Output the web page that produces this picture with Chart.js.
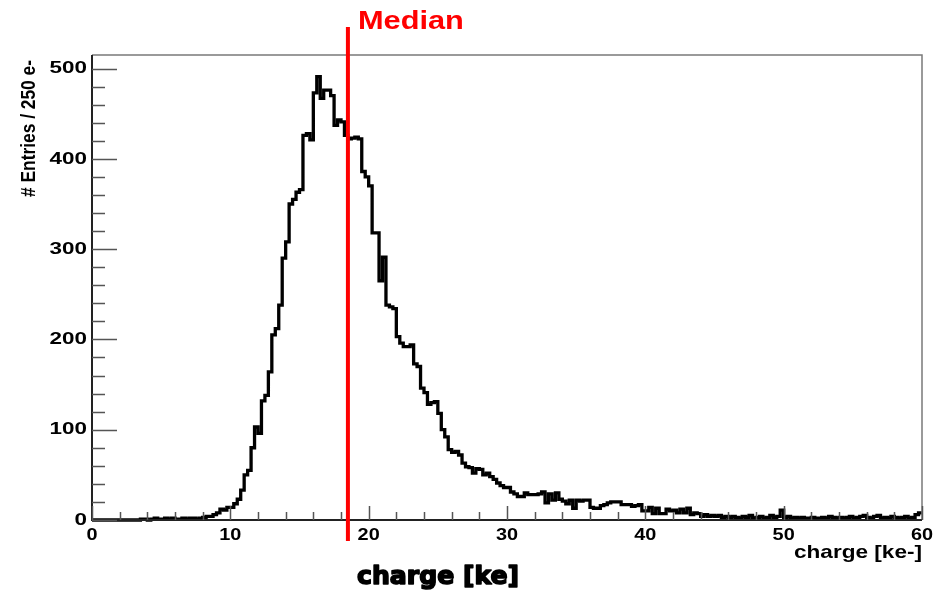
<!DOCTYPE html>
<html><head><meta charset="utf-8">
<script src="https://cdn.jsdelivr.net/npm/chart.js@4.4.1/dist/chart.umd.min.js"></script>
<style>html,body{margin:0;padding:0;background:#fff}#wrap{width:936px;height:590px}</style>
</head><body><div id="wrap"><canvas id="c" width="936" height="590"></canvas></div>
<script>
// ---- data ----
const BIN_WIDTH_KE = 0.25;
const X_RANGE = [0, 60];
const Y_RANGE = [0, 515];
const X_TICKS = [0, 10, 20, 30, 40, 50, 60];
const Y_TICKS = [0, 100, 200, 300, 400, 500];
const X_MINOR_STEP = 2;
const Y_MINOR_STEP = 20;
const COUNTS = [
  0,0,0,0,0,0,0,0,0,0,
  0,0,0,0,1,1,0,1,2,1,
  1,2,1,2,1,1,2,1,2,2,
  1,2,3,4,4,6,8,12,11,14,
  14,18,23,33,50,55,80,103,96,132,
  138,164,205,212,238,290,308,350,355,363,
  366,426,428,421,473,491,467,476,476,470,
  437,443,441,426,422,423,424,422,386,380,
  370,318,318,265,291,238,236,234,203,196,
  192,192,194,173,170,146,141,128,130,131,
  118,100,92,78,75,76,72,63,59,58,
  52,57,56,50,52,48,45,41,38,36,
  36,31,29,26,26,30,28,28,28,29,
  31,19,29,22,30,23,21,18,22,13,
  22,21,22,22,14,13,13,16,17,19,
  20,20,20,17,17,17,15,16,17,10,
  10,14,7,13,7,7,12,10,11,8,
  12,8,13,6,8,7,4,6,4,5,
  4,5,3,4,3,4,3,2,4,3,
  5,2,3,4,2,3,5,3,4,11,
  3,4,2,3,2,3,2,2,3,2,
  2,3,2,4,3,2,3,2,3,4,
  2,3,4,5,3,2,4,5,2,3,
  2,4,3,2,3,4,2,3,6,8
];
const MEDIAN_KE = 18.5;
const MEDIAN_LABEL = 'Median';
const X_TITLE = 'charge [ke-]';
const X_CAPTION = 'charge [ke]';
const Y_TITLE = '# Entries / 250 e-';

// ---- build histogram step points (bin left edges + closing edge) ----
const points = COUNTS.map((c, i) => ({x: i * BIN_WIDTH_KE, y: c}));
points.push({x: COUNTS.length * BIN_WIDTH_KE, y: COUNTS[COUNTS.length - 1]});

const FONT = "'Liberation Sans', Arial, Helvetica, sans-serif";

function drawStretched(ctx, text, x, y, sx, align, stroke) {
  ctx.save();
  ctx.translate(x, y);
  ctx.scale(sx, 1);
  ctx.textAlign = align;
  ctx.fillText(text, 0, 0);
  if (stroke) { ctx.lineWidth = stroke; ctx.strokeStyle = ctx.fillStyle; ctx.lineJoin = 'round'; ctx.strokeText(text, 0, 0); }
  ctx.restore();
}
function drawFitted(ctx, text, x, y, target, align, stroke) {
  const w = ctx.measureText(text).width;
  drawStretched(ctx, text, x, y, target / w, align, stroke);
}

const decor = {
  id: 'decor',
  afterDatasetsDraw(chart) {
    const {ctx, chartArea: a, scales: {x, y}} = chart;
    ctx.save();
    // frame
    ctx.strokeStyle = '#7a7a7a';
    ctx.lineWidth = 1.5;
    ctx.beginPath();
    ctx.moveTo(a.left, a.top); ctx.lineTo(a.right, a.top); ctx.lineTo(a.right, a.bottom);
    ctx.stroke();
    ctx.strokeStyle = '#222';
    ctx.lineWidth = 2;
    ctx.beginPath();
    ctx.moveTo(a.left, a.top); ctx.lineTo(a.left, a.bottom); ctx.lineTo(a.right, a.bottom);
    ctx.stroke();
    // ticks
    ctx.strokeStyle = '#555';
    ctx.lineWidth = 1.5;
    ctx.beginPath();
    for (let v = Y_RANGE[0]; v <= Y_RANGE[1]; v += Y_MINOR_STEP) {
      const py = Math.round(y.getPixelForValue(v)) + 0.5;
      const len = (v % 100 === 0) ? 25 : 13;
      ctx.moveTo(a.left, py); ctx.lineTo(a.left + len, py);
    }
    for (let v = X_RANGE[0]; v <= X_RANGE[1]; v += X_MINOR_STEP) {
      const px = Math.round(x.getPixelForValue(v)) + 0.5;
      const len = (v % 10 === 0) ? 14 : 8;
      ctx.moveTo(px, a.bottom); ctx.lineTo(px, a.bottom - len);
    }
    ctx.stroke();
    // tick labels
    ctx.fillStyle = '#000';
    ctx.font = 'bold 17px ' + FONT;
    ctx.textBaseline = 'middle';
    Y_TICKS.forEach(v => drawStretched(ctx, String(v), a.left - 5, y.getPixelForValue(v), 1.32, 'right'));
    ctx.textBaseline = 'alphabetic';
    X_TICKS.forEach(v => drawStretched(ctx, String(v), x.getPixelForValue(v), 540, 1.17, 'center'));
    // median line
    const mx = x.getPixelForValue(MEDIAN_KE);
    ctx.strokeStyle = '#ff0000';
    ctx.lineWidth = 4;
    ctx.beginPath();
    ctx.moveTo(mx, 27); ctx.lineTo(mx, 541);
    ctx.stroke();
    ctx.fillStyle = '#ff0000';
    ctx.font = 'bold 26px ' + FONT;
    ctx.textBaseline = 'alphabetic';
    drawFitted(ctx, MEDIAN_LABEL, mx + 10, 29, 106, 'left');
    // axis titles
    ctx.fillStyle = '#000';
    ctx.font = 'bold 19px ' + FONT;
    drawFitted(ctx, X_TITLE, a.right, 558, 128, 'right');
    ctx.font = "bold 25px 'DejaVu Sans', sans-serif";
    drawFitted(ctx, X_CAPTION, 438, 584, 162, 'center', 1.6);
    // y title rotated
    ctx.font = 'bold 20px ' + FONT;
    ctx.save();
    ctx.translate(29, 197);
    ctx.rotate(-Math.PI / 2);
    ctx.textBaseline = 'middle';
    const w = ctx.measureText(Y_TITLE).width;
    ctx.scale(137 / w, 1);
    ctx.textAlign = 'left';
    ctx.fillText(Y_TITLE, 0, 0);
    ctx.restore();
    ctx.restore();
  }
};

new Chart(document.getElementById('c'), {
  type: 'line',
  data: {
    datasets: [{
      data: points,
      stepped: 'before',
      borderColor: '#000',
      borderWidth: 3.3,
      pointRadius: 0,
      fill: false,
      clip: 6
    }]
  },
  options: {
    responsive: false,
    animation: false,
    devicePixelRatio: 1,
    layout: {padding: {top: 55, right: 14, left: 0, bottom: 0}},
    plugins: {legend: {display: false}, tooltip: {enabled: false}},
    scales: {
      x: {
        type: 'linear', min: X_RANGE[0], max: X_RANGE[1],
        afterFit(s) { s.height = 70; },
        afterBuildTicks(s) { s.ticks = X_TICKS.map(v => ({value: v})); },
        grid: {display: false, drawTicks: false},
        border: {display: false},
        ticks: {display: false}
      },
      y: {
        type: 'linear', min: Y_RANGE[0], max: Y_RANGE[1],
        afterFit(s) { s.width = 92; },
        afterBuildTicks(s) { s.ticks = Y_TICKS.map(v => ({value: v})); },
        grid: {display: false, drawTicks: false},
        border: {display: false},
        ticks: {display: false}
      }
    }
  },
  plugins: [decor]
});
</script>
</body></html>
